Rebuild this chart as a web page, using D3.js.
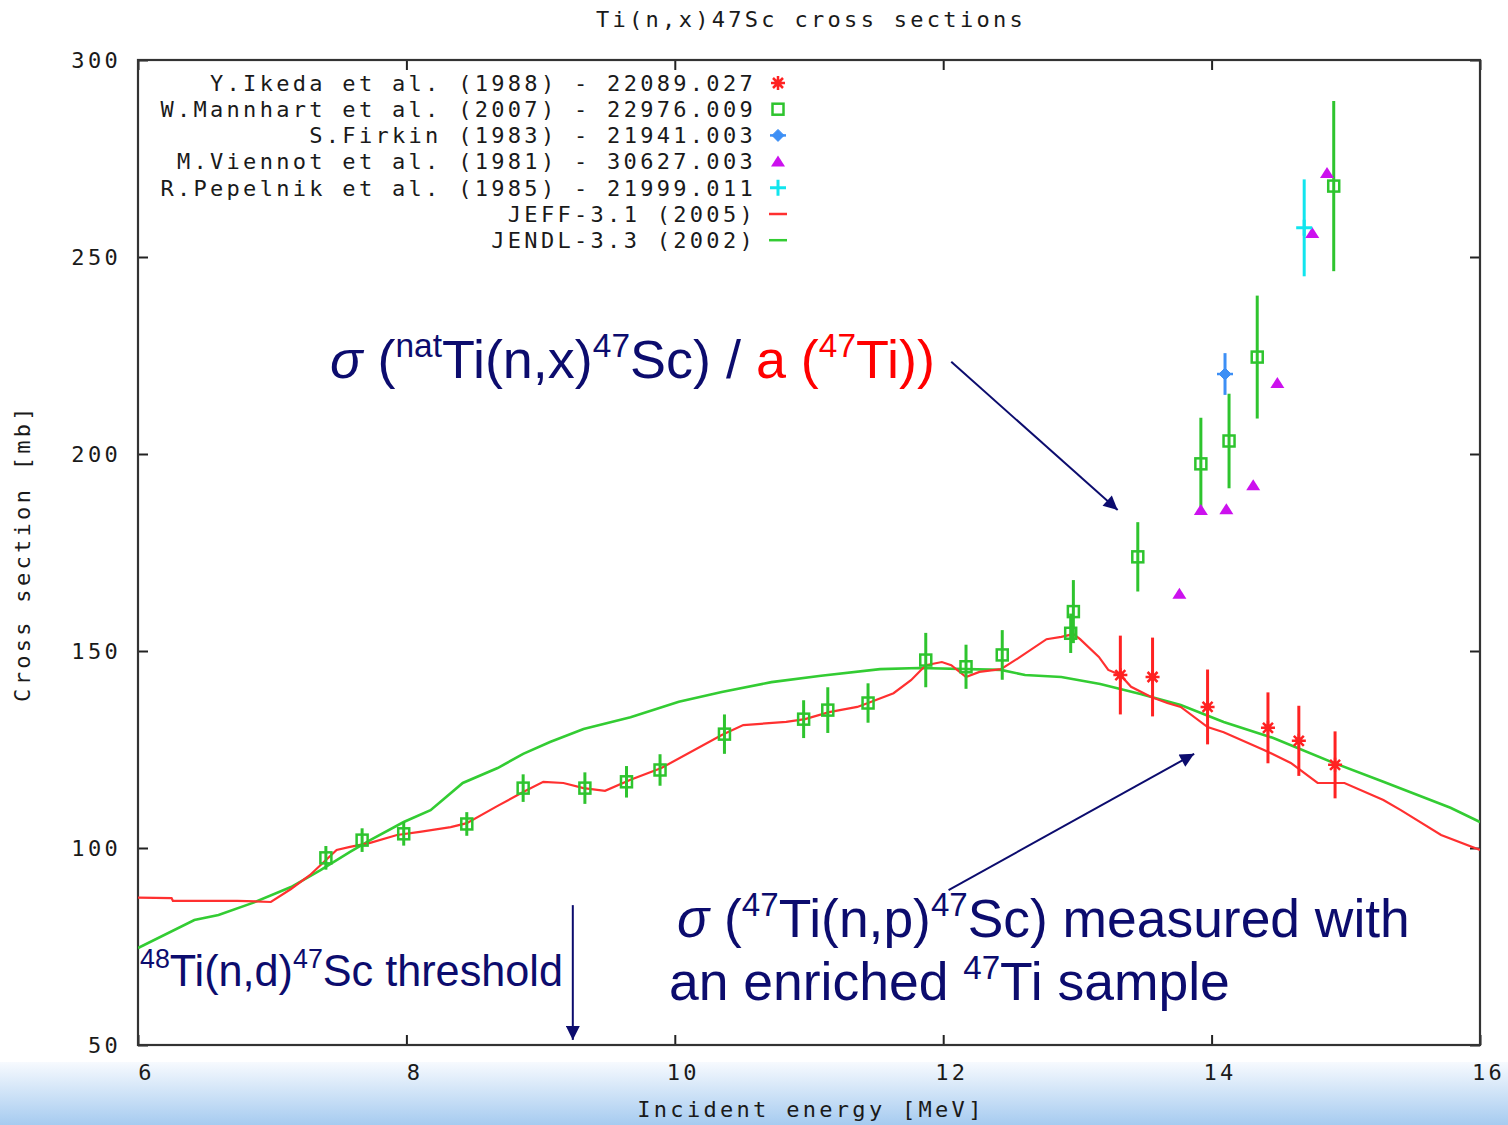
<!DOCTYPE html>
<html>
<head>
<meta charset="utf-8">
<script src="https://cdn.jsdelivr.net/npm/d3@7"></script>
<style>
  body { margin: 0; background: #fff; }
  svg { display: block; }
</style>
</head>
<body>
<div id="chart"></div>
<script>
// Ti(n,x)47Sc cross sections - EXFOR style plot with annotations

// data : [energy MeV, cross section mb, error mb]
var ikeda = [[13.32, 143.9, 10], [13.56, 143.4, 10], [13.97, 135.8, 9.5],
             [14.42, 130.5, 9], [14.65, 127.2, 8.9], [14.92, 121.1, 8.5]];

var mannhart = [[7.40, 97.5, 3], [7.67, 102.0, 3], [7.98, 103.6, 3], [8.45, 106.1, 3],
                [8.87, 115.2, 3.5], [9.33, 115.2, 4], [9.64, 116.8, 4], [9.89, 119.8, 4],
                [10.37, 128.9, 5], [10.96, 132.7, 4.8], [11.14, 135.0, 5.8], [11.44, 136.8, 5],
                [11.87, 147.7, 6.9], [12.17, 146.0, 5.6], [12.44, 149.0, 6.3], [12.95, 154.5, 5],
                [12.97, 160.0, 8], [13.45, 173.9, 8.8], [13.92, 197.5, 11.7], [14.13, 203.3, 12],
                [14.34, 224.6, 15.6], [14.91, 268.0, 21.6]];

var firkin = [[14.10, 220.3, 5.3]];

var viennot = [[13.76, 164.5], [13.92, 185.8], [14.11, 186.0], [14.31, 192.1],
               [14.49, 218.0], [14.75, 256.1], [14.86, 271.3]];

var pepelnik = [[14.69, 257.4, 12.3]];

// evaluated curves : [energy, cross section]
var jeff = [[6.0, 87.4], [6.25, 87.3], [6.26, 86.6], [6.74, 86.6], [6.99, 86.3], [7.14, 89.6],
            [7.28, 93.1], [7.48, 99.5], [7.58, 100.3], [7.73, 101.3], [7.93, 103.3], [8.10, 104.1],
            [8.33, 105.3], [8.45, 106.3], [8.68, 110.7], [8.87, 114.2], [9.02, 116.8], [9.17, 116.5],
            [9.32, 115.2], [9.48, 114.5], [9.67, 117.3], [9.90, 120.3], [10.35, 128.7], [10.51, 131.2],
            [10.83, 132.0], [10.97, 132.7], [11.15, 134.5], [11.36, 135.8], [11.44, 136.8], [11.63, 139.3],
            [11.76, 142.6], [11.87, 146.4], [11.99, 147.2], [12.06, 146.4], [12.17, 143.4], [12.27, 144.7],
            [12.43, 145.4], [12.56, 148.2], [12.77, 153.0], [12.88, 153.6], [12.97, 154.3], [13.02, 153.0],
            [13.16, 148.5], [13.23, 145.2], [13.32, 143.9], [13.40, 140.9], [13.55, 138.3], [13.67, 136.8],
            [13.77, 135.8], [13.97, 130.7], [14.09, 129.4], [14.39, 124.9], [14.59, 121.6], [14.79, 116.5],
            [14.99, 116.5], [15.28, 112.2], [15.41, 109.6], [15.71, 103.3], [16.0, 99.5]];

var jendl = [[6.0, 74.6], [6.42, 81.7], [6.60, 83.0], [6.85, 86.0], [7.14, 90.1], [7.36, 94.4],
             [7.58, 99.0], [7.73, 102.0], [7.98, 106.6], [8.18, 109.6], [8.27, 112.2], [8.42, 116.5],
             [8.68, 120.3], [8.87, 123.9], [9.07, 126.9], [9.32, 130.2], [9.67, 133.2], [10.03, 137.1],
             [10.35, 139.6], [10.72, 142.1], [11.09, 143.7], [11.53, 145.4], [11.82, 145.7], [12.43, 145.2],
             [12.61, 143.9], [12.88, 143.4], [13.17, 141.6], [13.47, 139.1], [13.77, 136.3], [14.09, 132.0],
             [14.46, 127.9], [14.91, 121.6], [15.28, 116.8], [15.78, 110.2], [16.0, 106.6]];

var xTicks = [6, 8, 10, 12, 14, 16];
var yTicks = [50, 100, 150, 200, 250, 300];

var legendLabels = ["Y.Ikeda et al. (1988) - 22089.027",
                    "W.Mannhart et al. (2007) - 22976.009",
                    "S.Firkin (1983) - 21941.003",
                    "M.Viennot et al. (1981) - 30627.003",
                    "R.Pepelnik et al. (1985) - 21999.011",
                    "JEFF-3.1 (2005)",
                    "JENDL-3.3 (2002)"];

var W = 1508, H = 1125;
var margin = {top: 60, right: 28, bottom: 80, left: 138};
var plotW = W - margin.left - margin.right;
var plotH = H - margin.top - margin.bottom;

var navy = "#0c0c6e";
var monoFont = "'DejaVu Sans Mono', monospace";
var monoSize = "22px", monoSpacing = "3.3px";
var col = {ikeda: "#ff2222", mannhart: "#2ec42e", firkin: "#3d8ff5", viennot: "#cc11ee",
           pepelnik: "#11e5ee", jeff: "#ff3030", jendl: "#33cc33"};

var svg = d3.select("#chart").append("svg")
    .attr("width", W)
    .attr("height", H);

var defs = svg.append("defs");
var grad = defs.append("linearGradient")
    .attr("id", "band").attr("x1", 0).attr("x2", 0).attr("y1", 0).attr("y2", 1);
grad.append("stop").attr("offset", "0%").attr("stop-color", "#f7fafe");
grad.append("stop").attr("offset", "100%").attr("stop-color", "#a6cbf0");

defs.append("marker")
    .attr("id", "arrowhead")
    .attr("viewBox", "0 0 10 10")
    .attr("refX", 10).attr("refY", 5)
    .attr("markerWidth", 22).attr("markerHeight", 14)
    .attr("markerUnits", "userSpaceOnUse")
    .attr("orient", "auto")
  .append("path")
    .attr("d", "M0,0 L10,5 L0,10 z")
    .attr("fill", navy);

defs.append("clipPath").attr("id", "plotclip")
  .append("rect").attr("width", plotW).attr("height", plotH);

// blue band at the bottom of the slide
svg.append("rect")
    .attr("x", 0).attr("y", 1062)
    .attr("width", W).attr("height", H - 1062)
    .attr("fill", "url(#band)");

var x = d3.scaleLinear().domain([6, 16]).range([0, plotW]);
var y = d3.scaleLinear().domain([50, 300]).range([plotH, 0]);

var g = svg.append("g")
    .attr("transform", "translate(" + margin.left + "," + margin.top + ")");

// text style shared by ticks, titles and legend
function monoText(sel) {
    return sel.attr("fill", "#1a1a1a")
        .style("font-family", monoFont)
        .style("font-size", monoSize)
        .style("letter-spacing", monoSpacing);
}

// axes (gnuplot style: ticks inward, frame all round)
function styleAxis(sel) {
    sel.select(".domain").remove();
    sel.selectAll("line").attr("stroke", "#222").attr("stroke-width", 2);
    sel.selectAll("text").call(monoText);
}

g.append("g")
    .attr("transform", "translate(0," + plotH + ")")
    .call(d3.axisBottom(x).tickValues(xTicks).tickSize(-10).tickPadding(19).tickFormat(d3.format("d")))
    .call(styleAxis)
    .selectAll("text").attr("dx", 8);

g.append("g")
    .call(d3.axisTop(x).tickValues(xTicks).tickSize(-10).tickFormat(""))
    .call(styleAxis);

g.append("g")
    .call(d3.axisLeft(y).tickValues(yTicks).tickSize(-10).tickPadding(17).tickFormat(d3.format("d")))
    .call(styleAxis);

g.append("g")
    .attr("transform", "translate(" + plotW + ",0)")
    .call(d3.axisRight(y).tickValues(yTicks).tickSize(-10).tickFormat(""))
    .call(styleAxis);

g.append("rect")
    .attr("width", plotW).attr("height", plotH)
    .attr("fill", "none")
    .attr("stroke", "#333")
    .attr("stroke-width", 2.2);

// titles
svg.append("text")
    .attr("x", margin.left + plotW / 2 + 2).attr("y", 27)
    .attr("text-anchor", "middle")
    .text("Ti(n,x)47Sc cross sections")
    .call(monoText);

svg.append("text")
    .attr("x", margin.left + plotW / 2 + 2).attr("y", 1117)
    .attr("text-anchor", "middle")
    .text("Incident energy [MeV]")
    .call(monoText);

svg.append("text")
    .attr("transform", "translate(30,553) rotate(-90)")
    .attr("text-anchor", "middle")
    .text("Cross section [mb]")
    .call(monoText);

// evaluated curves
var line = d3.line()
    .x(function(d) { return x(d[0]); })
    .y(function(d) { return y(d[1]); });

var curves = g.append("g").attr("clip-path", "url(#plotclip)");

curves.append("path")
    .datum(jendl)
    .attr("d", line)
    .attr("fill", "none")
    .attr("stroke", col.jendl)
    .attr("stroke-width", 2.6);

curves.append("path")
    .datum(jeff)
    .attr("d", line)
    .attr("fill", "none")
    .attr("stroke", col.jeff)
    .attr("stroke-width", 2.2);

// error bars
function errorBars(data, color) {
    g.append("g").selectAll("line")
        .data(data)
        .enter()
        .append("line")
            .attr("x1", function(d) { return x(d[0]); })
            .attr("x2", function(d) { return x(d[0]); })
            .attr("y1", function(d) { return y(d[1] - d[2]); })
            .attr("y2", function(d) { return y(d[1] + d[2]); })
            .attr("stroke", color)
            .attr("stroke-width", 3);
}

errorBars(mannhart, col.mannhart);
errorBars(ikeda, col.ikeda);
errorBars(firkin, col.firkin);
errorBars(pepelnik, col.pepelnik);

// symbols
function drawSquare(sel, color) {
    sel.append("rect")
        .attr("x", -5.5).attr("y", -5.5).attr("width", 11).attr("height", 11)
        .attr("fill", "none").attr("stroke", color).attr("stroke-width", 2.5);
}
function drawAsterisk(sel, color) {
    sel.append("path")
        .attr("d", "M-7,0H7M0,-7V7M-5,-5L5,5M-5,5L5,-5")
        .attr("stroke", color).attr("stroke-width", 2.5);
    sel.append("circle").attr("r", 3.5).attr("fill", color);
}
function drawDiamond(sel, color) {
    sel.append("path")
        .attr("d", "M0,-6L6,0L0,6L-6,0z")
        .attr("fill", color).attr("stroke", color).attr("stroke-width", 1);
    sel.append("path")
        .attr("d", "M-8,0H8")
        .attr("stroke", color).attr("stroke-width", 2.5);
}
function drawTriangle(sel, color) {
    sel.append("path")
        .attr("d", "M0,-6L7,5H-7z")
        .attr("fill", color);
}
function drawPlus(sel, color) {
    sel.append("path")
        .attr("d", "M-8,0H8M0,-8V8")
        .attr("stroke", color).attr("stroke-width", 3);
}

function points(data, drawFn, color) {
    g.append("g").selectAll("g")
        .data(data)
        .enter()
        .append("g")
            .attr("transform", function(d) { return "translate(" + x(d[0]) + "," + y(d[1]) + ")"; })
            .each(function() { drawFn(d3.select(this), color); });
}

points(mannhart, drawSquare, col.mannhart);
points(ikeda, drawAsterisk, col.ikeda);
points(firkin, drawDiamond, col.firkin);
points(viennot, drawTriangle, col.viennot);
points(pepelnik, drawPlus, col.pepelnik);

// legend
var legendSymbols = [
    function(s) { drawAsterisk(s, col.ikeda); },
    function(s) { drawSquare(s, col.mannhart); },
    function(s) { drawDiamond(s, col.firkin); },
    function(s) { drawTriangle(s, col.viennot); },
    function(s) { drawPlus(s, col.pepelnik); },
    function(s) { s.append("path").attr("d", "M-9,0H9").attr("stroke", col.jeff).attr("stroke-width", 2.5); },
    function(s) { s.append("path").attr("d", "M-9,0H9").attr("stroke", col.jendl).attr("stroke-width", 2.5); }
];

var legend = svg.append("g").selectAll("g")
    .data(legendLabels)
    .enter()
    .append("g")
        .attr("transform", function(d, i) { return "translate(0," + (83 + i * 26.2) + ")"; });

legend.append("text")
    .attr("x", 756).attr("dy", "0.35em")
    .attr("text-anchor", "end")
    .text(function(d) { return d; })
    .call(monoText);

legend.append("g")
    .attr("transform", "translate(778,0)")
    .each(function(d, i) { legendSymbols[i](d3.select(this)); });

// annotations (Arial-like text squeezed to the width it has on the slide)
function richText(x0, y0, targetW, size, parts) {
    var holder = svg.append("g").attr("transform", "translate(" + x0 + "," + y0 + ")");
    var t = holder.append("text")
        .style("font-family", "'Liberation Sans', Arial, sans-serif")
        .style("font-size", size + "px");
    var raised = false;
    parts.forEach(function(p) {
        var ts = t.append("tspan").text(p.t).attr("fill", p.c || navy);
        if (p.sup && !raised) { ts.attr("dy", -0.4 * size); raised = true; }
        if (!p.sup && raised) { ts.attr("dy", 0.4 * size); raised = false; }
        if (p.sup) ts.style("font-size", (0.62 * size) + "px");
        if (p.i) ts.style("font-style", "italic");
    });
    var w = t.node().getComputedTextLength();
    t.attr("transform", "scale(" + (targetW / w) + ",1)");
}

richText(330, 378, 605, 53, [
    {t: "σ", i: true}, {t: " ("}, {t: "nat", sup: true}, {t: "Ti(n,x)"}, {t: "47", sup: true},
    {t: "Sc) / "}, {t: "a (", c: "#ff0000"}, {t: "47", sup: true, c: "#ff0000"}, {t: "Ti))", c: "#ff0000"}
]);

richText(677, 937, 733, 53, [
    {t: "σ", i: true}, {t: " ("}, {t: "47", sup: true}, {t: "Ti(n,p)"}, {t: "47", sup: true},
    {t: "Sc) measured with"}
]);

richText(669, 1000, 561, 53, [
    {t: "an enriched "}, {t: "47", sup: true}, {t: "Ti sample"}
]);

richText(140, 986, 423, 44, [
    {t: "48", sup: true}, {t: "Ti(n,d)"}, {t: "47", sup: true}, {t: "Sc threshold"}
]);

// arrows (placed in data units)
var arrows = [[12.06, 223.4, 13.30, 185.8], [12.04, 89.3, 13.87, 123.9], [9.24, 85.5, 9.24, 51.3]];

g.append("g").selectAll("line")
    .data(arrows)
    .enter()
    .append("line")
        .attr("x1", function(d) { return x(d[0]); })
        .attr("y1", function(d) { return y(d[1]); })
        .attr("x2", function(d) { return x(d[2]); })
        .attr("y2", function(d) { return y(d[3]); })
        .attr("stroke", navy)
        .attr("stroke-width", 2)
        .attr("marker-end", "url(#arrowhead)");
</script>
</body>
</html>
